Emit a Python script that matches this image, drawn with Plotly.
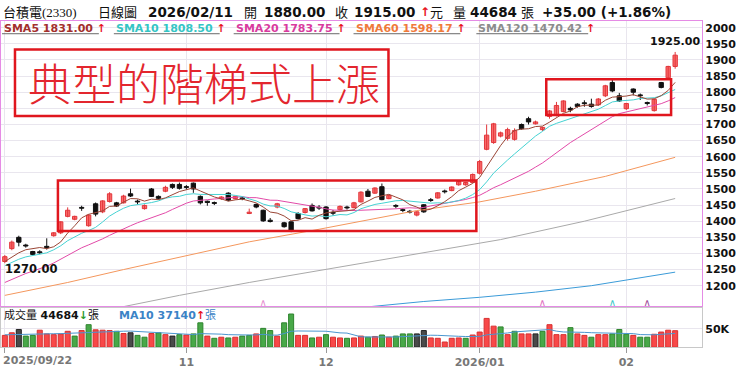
import plotly.graph_objects as go

W, H = 740, 369

# ---------------- data ----------------
tick_idx = [0, 26, 46, 68, 89]
tick_text = ["2025/09/22", "11", "12", "2026/01", "02"]
price_ticks = list(range(1200, 2001, 50))

# closes / volumes before the first visible day (seed the moving averages)
prior_close = [1140, 1145, 1150, 1155, 1150, 1160, 1165, 1160, 1170, 1185,
               1230, 1240, 1250, 1260, 1265, 1265, 1270, 1275, 1275]
prior_vol = [33000, 36000, 31000, 35000, 34000, 30000, 36000, 33000, 35000]

opens = [1275, 1315, 1350, 1326, 1306, 1305, 1322, 1355, 1364, 1415,
         1406, 1442, 1386, 1454, 1429, 1461, 1457, 1457, 1485, 1462,
         1439, 1500, 1477, 1493, 1514, 1514, 1507, 1518, 1477, 1462,
         1457, 1470, 1487, 1470, 1472, 1424, 1452, 1434, 1403, 1444,
         1395, 1398, 1424, 1427, 1449, 1443, 1444, 1427, 1436, 1443,
         1442, 1460, 1493, 1487, 1507, 1470, 1448, 1435, 1430, 1419,
         1451, 1466, 1472, 1493, 1495, 1513, 1513, 1520, 1549, 1623,
         1644, 1664, 1657, 1654, 1700, 1718, 1702, 1684, 1725, 1730,
         1740, 1750, 1763, 1767, 1763, 1761, 1789, 1830, 1789, 1749,
         1810, 1791, 1768, 1743, 1830, 1845, 1880]
highs = [1295, 1340, 1355, 1330, 1308, 1310, 1347, 1366, 1400, 1443,
         1417, 1448, 1422, 1458, 1465, 1490, 1460, 1482, 1501, 1467,
         1452, 1503, 1480, 1510, 1517, 1520, 1512, 1520, 1480, 1464,
         1461, 1478, 1490, 1479, 1476, 1439, 1455, 1436, 1410, 1457,
         1398, 1400, 1428, 1441, 1455, 1450, 1447, 1435, 1449, 1448,
         1460, 1493, 1500, 1505, 1517, 1482, 1453, 1440, 1435, 1431,
         1453, 1472, 1490, 1498, 1508, 1525, 1522, 1548, 1590, 1700,
         1705, 1678, 1690, 1688, 1703, 1724, 1712, 1693, 1745, 1770,
         1775, 1755, 1766, 1775, 1780, 1782, 1823, 1838, 1798, 1767,
         1812, 1796, 1771, 1780, 1832, 1882, 1925]
lows = [1270, 1310, 1322, 1318, 1294, 1298, 1312, 1352, 1360, 1412,
        1403, 1432, 1383, 1415, 1425, 1458, 1444, 1455, 1475, 1452,
        1436, 1475, 1467, 1490, 1500, 1498, 1498, 1488, 1452, 1448,
        1450, 1466, 1462, 1467, 1465, 1422, 1440, 1398, 1396, 1440,
        1380, 1366, 1405, 1424, 1430, 1435, 1405, 1418, 1433, 1436,
        1440, 1458, 1475, 1485, 1465, 1468, 1440, 1428, 1424, 1415,
        1426, 1460, 1470, 1486, 1493, 1510, 1510, 1518, 1545, 1620,
        1640, 1660, 1650, 1650, 1684, 1700, 1700, 1680, 1718, 1725,
        1738, 1738, 1752, 1755, 1752, 1758, 1785, 1800, 1770, 1745,
        1790, 1776, 1759, 1740, 1812, 1840, 1873]
closes = [1290, 1335, 1335, 1323, 1297, 1302, 1318, 1364, 1398, 1434,
          1415, 1441, 1419, 1422, 1463, 1485, 1447, 1478, 1478, 1460,
          1449, 1477, 1471, 1505, 1505, 1502, 1505, 1500, 1457, 1458,
          1456, 1475, 1465, 1477, 1470, 1428, 1444, 1401, 1399, 1454,
          1383, 1371, 1408, 1439, 1432, 1441, 1408, 1425, 1446, 1442,
          1457, 1490, 1477, 1503, 1467, 1480, 1447, 1434, 1429, 1429,
          1429, 1465, 1488, 1492, 1506, 1523, 1520, 1545, 1585, 1667,
          1702, 1674, 1684, 1681, 1687, 1708, 1708, 1691, 1742, 1759,
          1773, 1745, 1756, 1765, 1756, 1779, 1820, 1804, 1773, 1765,
          1800, 1790, 1765, 1778, 1815, 1880, 1915]
volumes = [32000, 39000, 48000, 30000, 32000, 46000, 36000, 34000, 36000, 43000,
           30000, 45000, 61000, 47000, 46000, 45000, 43000, 37000, 39000, 32000,
           27000, 37000, 39000, 34000, 30000, 34000, 33000, 36000, 66000, 30000,
           24000, 27000, 25000, 27000, 30000, 32000, 36000, 51000, 45000, 30000,
           66000, 90000, 32000, 32000, 25000, 27000, 34000, 27000, 25000, 24000,
           25000, 30000, 27000, 29000, 33000, 27000, 30000, 36000, 36000, 36000,
           45000, 25000, 24000, 14000, 24000, 25000, 24000, 33000, 41000, 78000,
           57000, 55000, 34000, 43000, 36000, 36000, 36000, 43000, 61000, 34000,
           34000, 53000, 36000, 32000, 27000, 34000, 34000, 36000, 48000, 35000,
           32000, 27000, 27000, 35000, 41000, 46000, 44684]

# long moving averages
sma60_idx = [0, 9, 17, 26, 35, 45, 52, 59, 68, 76, 86, 96]
sma60_val = [1170, 1210, 1250, 1292, 1336, 1375, 1405, 1433, 1460, 1493, 1539, 1598.17]
sma120_idx = [14, 18, 25, 35, 50, 60, 71, 83, 96]
sma120_val = [1122, 1139, 1170, 1210, 1265, 1302, 1343, 1400, 1470.42]
sma240_idx = [48, 53, 60, 68, 76, 84, 90, 96]
sma240_val = [1126, 1137, 1151, 1164, 1180, 1200, 1220, 1242]

cross_idx = [37, 77, 87, 92]
cross_color = ["#e58fcf", "#e070c0", "#40c8c8", "#a04a9a"]

# ---------------- derived ----------------
n = len(closes)
idx = list(range(n))
allc = prior_close + closes
off = len(prior_close)


def sma(arr, k, o):
    return [sum(arr[o + i - k + 1:o + i + 1]) / k for i in range(n)]


sma5 = sma(allc, 5, off)
sma10 = sma(allc, 10, off)
sma20 = sma(allc, 20, off)
allv = prior_vol + volumes
vma10 = sma(allv, 10, len(prior_vol))

RED_FILL, RED_LINE = "#fa6b6b", "#e2363b"
BLK = "#111111"

fig = go.Figure()

groups = {"up": ([], [], [], [], []), "dn": ([], [], [], [], [])}
for i in idx:
    o, h, l, c = opens[i], highs[i], lows[i], closes[i]
    g = groups["up" if c > o else "dn"]
    lo, hi = min(o, c), max(o, c)
    hgt = hi - lo
    base = lo
    if hgt < 2.6:
        base = (lo + hi) / 2 - 1.3
        hgt = 2.6
    g[0].append(i); g[1].append(base); g[2].append(hgt)
    g[3].extend([i, i, None]); g[4].extend([l, h, None])

for key, fill, line in (("up", RED_FILL, RED_LINE), ("dn", BLK, BLK)):
    xs, bases, hs, wx, wy = groups[key]
    fig.add_trace(go.Scatter(x=wx, y=wy, mode="lines", line=dict(color=line, width=1),
                             hoverinfo="skip", showlegend=False, xaxis="x", yaxis="y"))
    fig.add_trace(go.Bar(x=xs, y=hs, base=bases, width=0.62,
                         marker=dict(color=fill, line=dict(color=line, width=1)),
                         hoverinfo="skip", showlegend=False, xaxis="x", yaxis="y"))

for xi, vals, col in ((sma120_idx, sma120_val, "#a9a9a9"),
                      (sma60_idx, sma60_val, "#f4975d"),
                      (sma240_idx, sma240_val, "#3b9bd8")):
    fig.add_trace(go.Scatter(x=xi, y=vals, mode="lines", line=dict(color=col, width=1),
                             hoverinfo="skip", showlegend=False, xaxis="x", yaxis="y"))
for vals, col in ((sma20, "#e24aa8"), (sma10, "#45d2d2"), (sma5, "#9a4636")):
    fig.add_trace(go.Scatter(x=idx, y=vals, mode="lines", line=dict(color=col, width=1),
                             hoverinfo="skip", showlegend=False, xaxis="x", yaxis="y"))

fig.add_trace(go.Scatter(x=cross_idx, y=[1144] * len(cross_idx), mode="text", text=["∧"] * len(cross_idx),
                         textfont=dict(color=cross_color, size=10, family="DejaVu Sans"),
                         hoverinfo="skip", showlegend=False, xaxis="x", yaxis="y"))

# volume
vcol, vline = [], []
prev = prior_close[-1]
for i in idx:
    c = closes[i]
    if c > prev:
        vcol.append("#f84848"); vline.append("#d83030")
    elif c < prev:
        vcol.append("#48a848"); vline.append("#2e842e")
    else:
        vcol.append("#4a4a4a"); vline.append("#222222")
    prev = c
fig.add_trace(go.Bar(x=idx, y=volumes, width=0.72,
                     marker=dict(color=vcol, line=dict(color=vline, width=1)),
                     hoverinfo="skip", showlegend=False, xaxis="x2", yaxis="y2"))
fig.add_trace(go.Scatter(x=idx, y=vma10, mode="lines", line=dict(color="#4a96cf", width=1),
                         hoverinfo="skip", showlegend=False, xaxis="x2", yaxis="y2"))


# ---------------- layout ----------------
def PX(x):
    return x / W


def PY(y):
    return 1 - y / H


PINK = "#e58be5"
GRID = "#e9e6ee"
XR = [-0.55, 99.85]
dom_x = [0, 702 / W]

fig.update_layout(
    width=W, height=H, margin=dict(l=0, r=0, t=0, b=0),
    paper_bgcolor="white", plot_bgcolor="white", barmode="overlay",
    showlegend=False,
    xaxis=dict(domain=dom_x, range=XR, anchor="y", tickvals=tick_idx, showticklabels=False,
               showgrid=True, gridcolor=GRID, zeroline=False, showline=True, mirror=True,
               linecolor=PINK, linewidth=1, fixedrange=True),
    yaxis=dict(domain=[PY(309), PY(21)], range=[1135.5, 2021.5], side="right", anchor="x",
               tickvals=price_ticks, ticktext=[str(v) for v in price_ticks],
               tickfont=dict(family="DejaVu Sans", size=11, color="#111", weight="bold"),
               showgrid=True, gridcolor=GRID, zeroline=False, showline=True, mirror=True,
               linecolor=PINK, linewidth=1, fixedrange=True),
    xaxis2=dict(domain=dom_x, range=XR, anchor="y2", tickvals=tick_idx,
                ticktext=[""] + tick_text[1:], ticks="outside", ticklen=5, tickcolor="#999",
                tickfont=dict(family="DejaVu Sans", size=11, color="#777", weight="bold"),
                showgrid=True, gridcolor=GRID, zeroline=False, showline=True, mirror=True,
                linecolor="#c8c8c8", linewidth=1, fixedrange=True),
    yaxis2=dict(domain=[PY(350), PY(311)], range=[0, 105000], side="right", anchor="x2",
                tickvals=[50000], ticktext=["50K"],
                tickfont=dict(family="DejaVu Sans", size=11, color="#111", weight="bold"),
                showgrid=True, gridcolor=GRID, zeroline=False, showline=True, mirror=True,
                linecolor="#c8c8c8", linewidth=1, fixedrange=True),
)

ann = []


def txt(x, y, text, size, color="#111", family="DejaVu Sans, Noto Sans CJK TC", xanchor="left", weight=None):
    f = dict(family=family, size=size, color=color)
    if weight is not None:
        f["weight"] = weight
    ann.append(dict(x=PX(x), y=PY(y), xref="paper", yref="paper", text=text, showarrow=False,
                    xanchor=xanchor, yanchor="middle", font=f))


# header
SERIF = "Liberation Serif, Noto Sans CJK TC"
txt(0, 12.5, "台積電(2330)", 13, family=SERIF)
txt(95, 12.5, "日線圖", 13, family=SERIF)
txt(145, 12.5, "<b>2026/02/11</b>", 13.5)
txt(241, 12.5, "開", 13, family=SERIF)
txt(261, 12.5, "<b>1880.00</b>", 13.5)
txt(332, 12.5, "收", 13, family=SERIF)
txt(351, 12.5, "<b>1915.00</b>", 13.5)
txt(418, 12.5, "<b>↑</b>", 12, color="#e8141e")
txt(428, 12.5, "元", 13, family=SERIF)
txt(451, 12.5, "量", 13, family=SERIF)
txt(468, 12.5, "<b>44684</b>", 13.5)
txt(519, 12.5, "張", 13, family=SERIF)
txt(540, 12.5, "<b>+35.00 (+1.86%)</b>", 13.5)

# SMA legend
ARROW = "<span style='color:#e8141e'>↑</span>"
sma_labels = [
    (1, "SMA5 1831.00", "#a3302d", 97),
    (113, "SMA10 1808.50", "#35c5c5", 106),
    (233, "SMA20 1783.75", "#d93b9e", 106),
    (353, "SMA60 1598.17", "#f07a3a", 107),
    (476, "SMA120 1470.42", "#8c8c8c", 112),
]
shapes = []
for x0, lab, col, wd in sma_labels:
    txt(x0, 28.5, "<b>" + lab + " " + ARROW + "</b>", 11, color=col)
    shapes.append(dict(type="line", xref="paper", yref="paper", x0=PX(x0), x1=PX(x0 + wd),
                       y0=PY(34), y1=PY(34), line=dict(color="#6a6a6a", width=1)))

# volume legend
txt(1, 318, "成交量 <b>44684</b><span style='color:#2c9a2c'><b>↓</b></span>張", 11)
txt(116, 318, "<b>MA10 37140</b>" + "<span style='color:#e8141e'><b>↑</b></span>張", 11, color="#3b83c6")

# x label for the first tick (left aligned)
txt(0, 363, "<b>" + tick_text[0] + "</b>", 11, color="#777")

# extreme labels
ann.append(dict(x=96, y=1925, xref="x", yref="y", text="<b>1925.00</b>", showarrow=False,
                xanchor="center", yanchor="bottom", yshift=2,
                font=dict(family="DejaVu Sans", size=11, color="#111")))
txt(2, 271, "<b>1270.00</b>", 11.5)

# title overlay
RBOX = "#e0161e"
txt(203, 83, "典型的階梯式上漲", 44, color="#e3262e", family="Noto Sans CJK TC", xanchor="center", weight=300)
for (x0, y0, x1, y1) in [(14, 50, 388, 117), (57, 182, 476, 233), (546, 80, 671, 116)]:
    shapes.append(dict(type="rect", xref="paper", yref="paper", x0=PX(x0), x1=PX(x1),
                       y0=PY(y1), y1=PY(y0), line=dict(color=RBOX, width=2.5)))

fig.update_layout(annotations=ann, shapes=shapes)
fig.write_html("out.html", config={"displayModeBar": False})
